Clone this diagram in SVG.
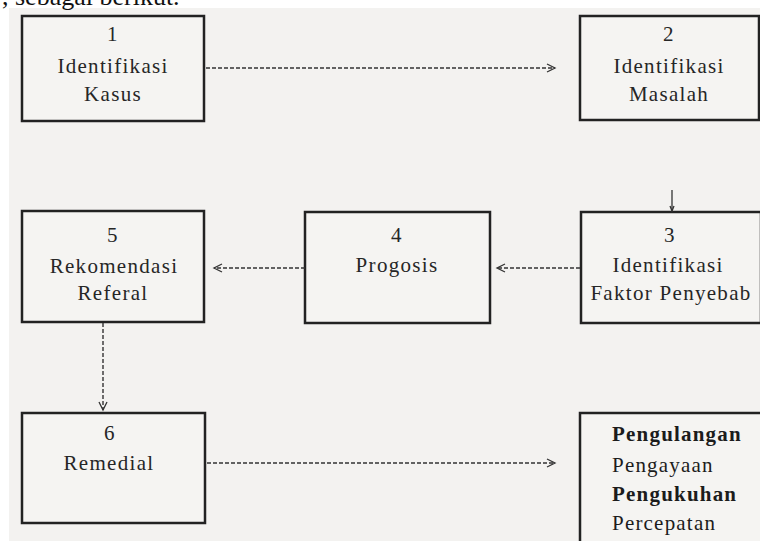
<svg xmlns="http://www.w3.org/2000/svg" width="760" height="541" viewBox="0 0 760 541">
<style>
.box{fill:#f5f4f2;stroke:#222;stroke-width:2.5}
text{font-family:'Liberation Serif','Times New Roman',serif}
.t{font-size:21px;fill:#262626;text-anchor:middle;letter-spacing:1.3px}
.tl{font-size:21px;fill:#1c1c1c;letter-spacing:1.2px}
.c{fill:none;stroke:#333;stroke-width:1.4;stroke-dasharray:4 2}
.h{fill:none;stroke:#333;stroke-width:1.3}
</style>
<rect x="0" y="0" width="760" height="541" fill="#ffffff"/>
<rect x="9" y="8" width="751" height="533" fill="#f3f2f0"/>
<text x="2" y="5" font-family="Liberation Serif, Times New Roman, serif" font-size="26" fill="#111">, sebagai berikut.</text>

<g id="node1" font-family="Liberation Serif, serif">
<rect class="box" x="22" y="16" width="182" height="105"/>
<text class="t" x="113" y="41">1</text>
<text class="t" x="113" y="73">Identifikasi</text>
<text class="t" x="113" y="101">Kasus</text>
</g>
<g id="node2">
<rect class="box" x="580" y="16" width="179" height="104"/>
<text class="t" x="669" y="41">2</text>
<text class="t" x="669" y="73">Identifikasi</text>
<text class="t" x="669" y="101">Masalah</text>
</g>
<g id="node3">
<rect class="box" x="581" y="212" width="180" height="111"/>
<text class="t" x="670" y="242">3</text>
<text class="t" x="668" y="272">Identifikasi</text>
<text class="t" x="671" y="300">Faktor Penyebab</text>
</g>
<g id="node4">
<rect class="box" x="305" y="212" width="185" height="111"/>
<text class="t" x="397" y="242">4</text>
<text class="t" x="397" y="272">Progosis</text>
</g>
<g id="node5">
<rect class="box" x="22" y="211" width="182" height="111"/>
<text class="t" x="113" y="242">5</text>
<text class="t" x="114" y="273">Rekomendasi</text>
<text class="t" x="113" y="300">Referal</text>
</g>
<g id="node6">
<rect class="box" x="22" y="413" width="183" height="110"/>
<text class="t" x="110" y="440">6</text>
<text class="t" x="109" y="470">Remedial</text>
</g>
<g id="node7">
<rect class="box" x="580" y="413" width="182" height="140"/>
<text class="tl" x="612" y="441" font-weight="bold">Pengulangan</text>
<text class="tl" x="612" y="472">Pengayaan</text>
<text class="tl" x="612" y="501" font-weight="bold">Pengukuhan</text>
<text class="tl" x="612" y="530">Percepatan</text>
</g>

<g id="connectors">
<line class="c" x1="206" y1="68" x2="555" y2="68"/>
<polyline class="h" points="547,64 555,68 547,72"/>
<line class="h" x1="672" y1="190" x2="672" y2="211"/>
<polyline class="h" points="670,206 672,211 674,206"/>
<line class="c" x1="580" y1="268" x2="497" y2="268"/>
<polyline class="h" points="505,264 497,268 505,272"/>
<line class="c" x1="305" y1="268" x2="214" y2="268"/>
<polyline class="h" points="222,264 214,268 222,272"/>
<line class="c" x1="103" y1="323" x2="103" y2="410"/>
<polyline class="h" points="99,402 103,410 107,402"/>
<line class="c" x1="207" y1="463" x2="555" y2="463"/>
<polyline class="h" points="547,459 555,463 547,467"/>
</g>
</svg>
